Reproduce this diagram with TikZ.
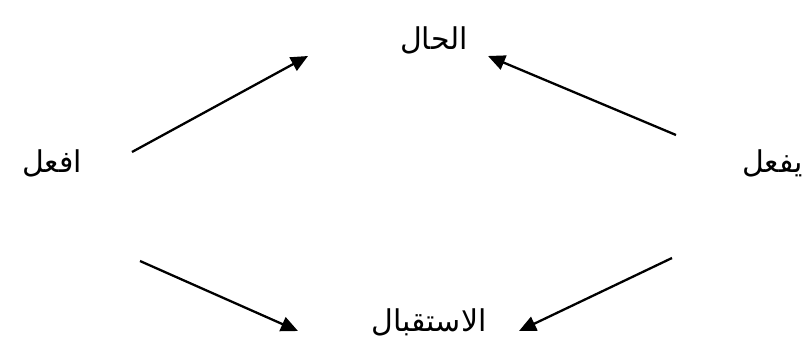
\documentclass[tikz,border=0pt]{standalone}
\usepackage{fontspec}
\newfontfamily\arabicfont[Script=Arabic]{DejaVu Sans}
\TeXXeTstate=1
\usetikzlibrary{arrows.meta}
\tikzset{
  word/.style={font=\arabicfont\fontsize{30}{34}\selectfont, inner sep=0pt},
  conn/.style={line width=2.3pt, -{Triangle[length=17pt,width=15pt]}}
}
\begin{document}
\begin{tikzpicture}[x=1pt,y=-1pt]
\useasboundingbox (0,0) rectangle (804,351);
\node[word] (hal) at (434,40) {\beginR الحال\endR};
\node[word] (afal) at (52,163) {\beginR افعل\endR};
\node[word, anchor=east] (yafal) at (803,163) {\beginR يفعل\endR};
\node[word] (istiqbal) at (429,322) {\beginR الاستقبال\endR};
\coordinate (s1) at (132,152);
\coordinate (e1) at (308,56);
\coordinate (s2) at (676,135);
\coordinate (e2) at (488,56);
\coordinate (s3) at (140,261);
\coordinate (e3) at (298,331);
\coordinate (s4) at (672,258);
\coordinate (e4) at (519,331);
\draw[conn] (s1) -- (e1);
\draw[conn] (s2) -- (e2);
\draw[conn] (s3) -- (e3);
\draw[conn] (s4) -- (e4);
\end{tikzpicture}
\end{document}
